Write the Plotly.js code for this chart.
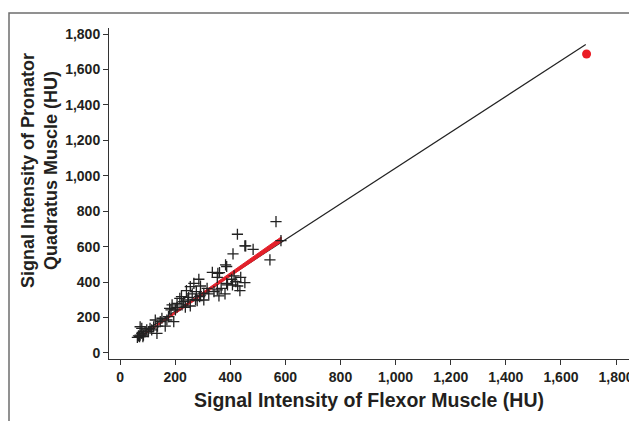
<!DOCTYPE html>
<html>
<head>
<meta charset="utf-8">
<script src="https://cdn.plot.ly/plotly-3.0.1.min.js"></script>
<style>html,body{margin:0;padding:0;overflow:hidden;background:#fff;}</style>
</head>
<body>
<div id="chart" style="width:629px;height:421px;"></div>
<script>
// Scatter of individual measurements (HU)
const flexorHU = [566,426,453,456,483,410,584,544,383,387,335,361,353,438,414,453,420,387,435,381,359,341,316,292,268,286,241,277,292,280,304,249,255,237,217,207,189,185,201,195,164,152,128,170,134,109,97,79,73,85,71,63,207,225,180,176,146,122,103,91,79,73,67,83,115,136,231,262,274,289,304,322,353,367,355,405,408,427,390,255,223,246];
const pronatorHU = [741,670,604,604,585,559,634,525,497,488,455,453,427,427,435,397,402,393,352,333,322,346,365,378,393,416,352,346,327,295,299,314,265,258,308,280,271,243,243,177,152,196,186,186,111,139,130,139,148,101,92,88,258,271,252,205,177,148,120,120,111,101,96,92,130,152,290,333,303,318,337,333,356,365,450,416,384,378,384,374,318,299];
// Fitted line (black) endpoints
const blackLineX = [63, 1690];
const blackLineY = [97, 1741];
// Red fitted band: x positions with lower / upper bounds
const redBandX = [63, 585];
const redBandLower = [77, 627];
const redBandUpper = [82, 655];
// Outlier point
const outlierX = [1693];
const outlierY = [1687];
const tickValues = [0,200,400,600,800,1000,1200,1400,1600,1800];

const tickFont = {family: 'Liberation Sans, Arial, sans-serif', size: 14, color: '#231f20', weight: 700};

const traces = [
  {x: blackLineX, y: blackLineY, type: 'scatter', mode: 'lines', line: {color: '#222', width: 1.2}},
  {x: redBandX.concat(redBandX.slice().reverse()),
   y: redBandLower.concat(redBandUpper.slice().reverse()),
   type: 'scatter', mode: 'lines', fill: 'toself', fillcolor: '#e3202a',
   line: {color: '#e3202a', width: 1}},
  {x: flexorHU, y: pronatorHU, type: 'scatter', mode: 'markers',
   marker: {symbol: 'cross-thin', size: 8, line: {width: 1.3, color: '#222'}}, hoverinfo: 'x+y'},
  {x: outlierX, y: outlierY, type: 'scatter', mode: 'markers', marker: {color: '#ea1c24', size: 9}}
];

const L = 109, R = 0, T = 28, B = 62, W = 629, H = 421;
const pw = W - L - R, ph = H - T - B;
const px = v => (v - L) / pw;
const py = v => (H - B - v) / ph;

const layout = {
  width: W, height: H,
  margin: {l: L, r: R, t: T, b: B, autoexpand: false},
  paper_bgcolor: '#fff', plot_bgcolor: '#fff',
  showlegend: false,
  font: {family: 'Liberation Sans, Arial, sans-serif', color: '#231f20'},
  xaxis: {
    range: [-40, 1847], tickvals: tickValues, tickformat: ',d',
    showgrid: false, zeroline: false, showline: true, linecolor: '#333', linewidth: 1,
    ticks: 'outside', ticklen: 5, tickcolor: '#333', tickwidth: 1,
    tickfont: tickFont, ticklabeloverflow: 'allow',
    title: {text: 'Signal Intensity of Flexor Muscle (HU)', standoff: 9,
            font: {family: 'Liberation Sans, Arial, sans-serif', size: 19.5, color: '#231f20', weight: 700}},
    automargin: false
  },
  yaxis: {
    range: [-34, 1834], tickvals: tickValues, tickformat: ',d',
    showgrid: false, zeroline: false, showline: true, linecolor: '#333', linewidth: 1,
    ticks: 'outside', ticklen: 5, tickcolor: '#333', tickwidth: 1,
    tickfont: tickFont, automargin: false
  },
  annotations: [{
    text: 'Signal Intensity of Pronator<br>Quadratus Muscle (HU)',
    xref: 'paper', yref: 'paper', x: px(40), y: py(171),
    xanchor: 'center', yanchor: 'middle', textangle: -90, showarrow: false,
    font: {family: 'Liberation Sans, Arial, sans-serif', size: 18, color: '#231f20', weight: 700}
  }],
  shapes: [{
    type: 'rect', xref: 'paper', yref: 'paper',
    x0: px(9), x1: px(700), y0: py(500), y1: py(13),
    line: {color: '#6d6d6d', width: 1.5}, fillcolor: 'rgba(0,0,0,0)', layer: 'below'
  }]
};

Plotly.newPlot('chart', traces, layout, {displayModeBar: false, staticPlot: true});
</script>
</body>
</html>
